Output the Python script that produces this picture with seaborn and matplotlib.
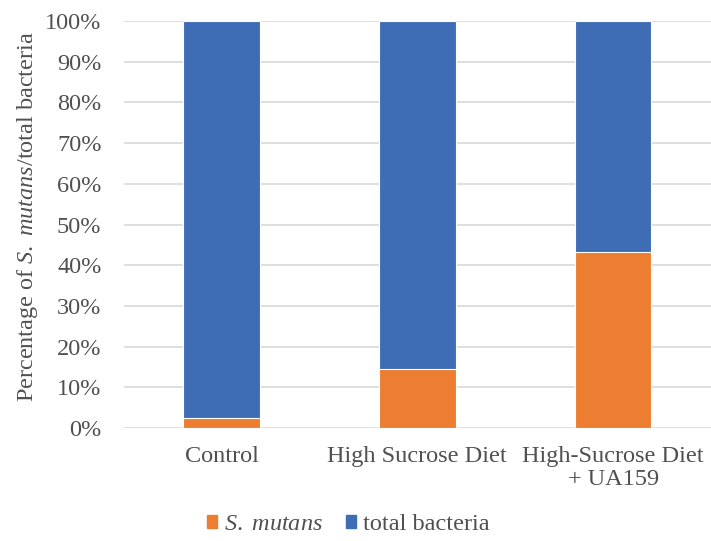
import numpy as np
import pandas as pd
import seaborn as sns
from matplotlib import pyplot as plt
from matplotlib.patches import Patch
from matplotlib.ticker import PercentFormatter

groups = ["Control", "High Sucrose Diet", "High-Sucrose Diet\n+ UA159"]
s_mutans = [2.5, 14.5, 43.2]
total = [100, 100, 100]

orange, blue = "#ED7D31", "#3E6DB5"
txt = "#505050"

sns.set_style("white")
plt.rcParams["font.family"] = ["Liberation Serif", "DejaVu Serif"]
plt.rcParams["mathtext.fontset"] = "custom"
plt.rcParams["mathtext.rm"] = "Liberation Serif"
plt.rcParams["mathtext.it"] = "Liberation Serif:italic"

df = pd.DataFrame({"group": groups, "s_mutans": s_mutans, "total": total})

fig = plt.figure(figsize=(7.11, 5.41), dpi=100)
ax = fig.add_axes([0.174, 0.209, 0.826, 0.752])

sns.barplot(data=df, x="group", y="total", color=blue, width=0.39,
            edgecolor="white", linewidth=0.8, saturation=1, ax=ax, zorder=3)
sns.barplot(data=df, x="group", y="s_mutans", color=orange, width=0.39,
            edgecolor="white", linewidth=0.8, saturation=1, ax=ax, zorder=3)

ax.set_ylim(0, 100)
ax.set_xlim(-0.5, 2.5)
ax.set_yticks(np.arange(0, 101, 10))
ax.yaxis.set_major_formatter(PercentFormatter(decimals=0))
ax.yaxis.grid(True, color="#D9D9D9", linewidth=1.2, zorder=0)
ax.set_axisbelow(True)
for s in ax.spines.values():
    s.set_visible(False)
ax.tick_params(axis="both", length=0, labelsize=17.5, colors=txt)
ax.tick_params(axis="y", pad=16)
ax.tick_params(axis="x", pad=13)
ax.set_xlabel("")
ax.set_ylabel(r"Percentage of $\it{S.\ mutans}$/total bacteria",
              fontsize=17.5, color=txt)
ax.yaxis.set_label_coords(-0.143, 0.52)
for lbl in ax.get_xticklabels():
    lbl.set_linespacing(1.15)
    lbl.set_multialignment("center")

handles = [Patch(color=orange), Patch(color=blue)]
fig.legend(handles, [r"$\it{S.\ mutans}$", "total bacteria"],
           loc="center", bbox_to_anchor=(0.49, 0.03), ncol=2, frameon=False,
           fontsize=17.5, handlelength=0.4, handleheight=0.4,
           handletextpad=0.3, columnspacing=0.95, labelcolor=txt)

plt.savefig("out.png", dpi=100)
